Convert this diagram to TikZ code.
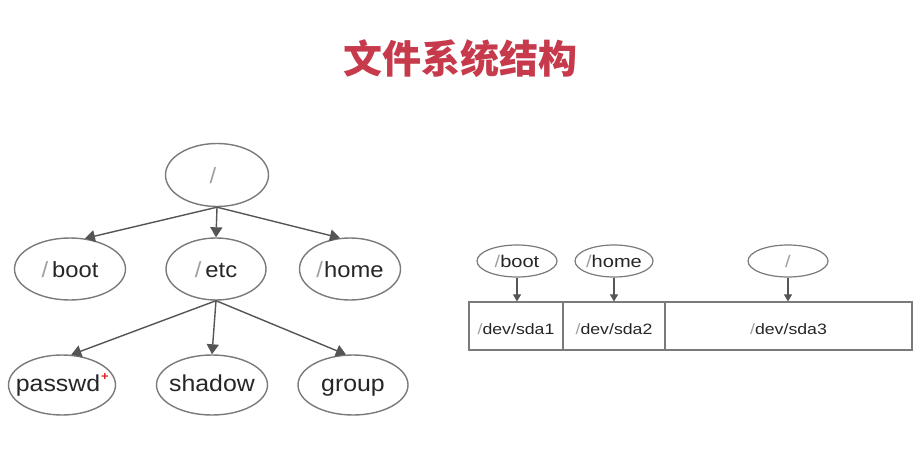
\documentclass[tikz,border=0pt]{standalone}
\usepackage{fontspec}
\setmainfont{Liberation Sans}
\newfontfamily\cjk{Noto Sans CJK SC}
\newfontfamily\treefont{Liberation Sans}[FakeStretch=1.08]
\newfontfamily\widefont{Liberation Sans}[FakeStretch=1.18]
\usetikzlibrary{shapes.geometric,arrows.meta}
\definecolor{titlered}{HTML}{C63A4C}
\definecolor{slashgray}{HTML}{A0A0A0}
\definecolor{txt}{HTML}{262626}
\definecolor{edge}{HTML}{7A7A7A}
\definecolor{arr}{HTML}{555555}
\definecolor{plusred}{HTML}{E02020}
\tikzset{
  bignode/.style={ellipse,draw=edge,line width=1.4pt,inner sep=0pt,minimum width=102pt,minimum height=62pt,text=txt,font=\treefont\fontsize{22}{22}\selectfont,text height=20pt,text depth=4pt},
  lownode/.style={bignode,font=\treefont\fontsize{23}{23}\selectfont,text height=16pt,text depth=4pt},
  smallnode/.style={ellipse,draw=edge,line width=1.2pt,inner sep=0pt,minimum width=80pt,minimum height=32pt,text=txt,font=\widefont\fontsize{17}{17}\selectfont,text height=14pt,text depth=2pt},
  cell/.style={rectangle,draw=edge,line width=1.2pt,inner sep=0pt,minimum height=48pt,text=txt,font=\widefont\fontsize{15}{15}\selectfont,text height=16pt,text depth=0pt},
  bigarrow/.style={draw=arr,line width=1.4pt,-{Triangle[width=12pt,length=10pt]}},
  smallarrow/.style={draw=arr,line width=1.1pt,-{Triangle[width=8pt,length=7pt]}}
}
\newcommand{\gslash}{{\color{slashgray}/}}
\newcommand{\fit}[1]{\makebox[0pt]{#1}}
\begin{document}
\begin{tikzpicture}[x=1pt,y=-1pt]
\useasboundingbox[fill=white] (0,0) rectangle (917,473);
% title
\node[text=titlered,font=\cjk\bfseries\fontsize{39}{39}\selectfont] (title) at (460,59) {文件系统结构};
% left tree
\node[bignode,minimum width=103pt,minimum height=63pt] (root) at (217,175) {\fit{\gslash\hspace{8pt}}};
\node[bignode,minimum width=111pt] (boot) at (70,269) {\fit{\gslash\hspace{4pt}boot}};
\node[bignode,minimum width=100pt] (etc) at (216,269) {\fit{\gslash\hspace{4pt}etc}};
\node[bignode,minimum width=101pt] (home) at (350,269) {\fit{\gslash\hspace{1pt}home}};
\node[lownode,minimum width=107pt,minimum height=60pt] (passwd) at (62,385) {\fit{\hspace{-8pt}passwd\rlap{\hspace{1pt}\raisebox{11pt}{\color{plusred}\bfseries\fontsize{12}{12}\selectfont+}}}};
\node[lownode,minimum width=111pt,minimum height=60pt] (shadow) at (212,385) {\fit{shadow}};
\node[lownode,minimum width=110pt,minimum height=60pt] (group) at (353,385) {\fit{group}};
\draw[bigarrow] (root.south) -- (boot.64);
\draw[bigarrow] (root.south) -- (etc.north);
\draw[bigarrow] (root.south) -- (home.108);
\draw[bigarrow] (etc.south) -- (passwd.73);
\draw[bigarrow] (etc.south) -- (shadow.north);
\draw[bigarrow] (etc.south) -- (group.103);
% right side
\node[smallnode] (rb) at (517,261) {\fit{\gslash boot}};
\node[smallnode,minimum width=78pt] (rh) at (614,261) {\fit{\gslash home}};
\node[smallnode] (rr) at (788,261) {\fit{\gslash}};
\node[cell,minimum width=94pt] (sda1) at (516,326) {\gslash dev/sda1};
\node[cell,minimum width=102pt] (sda2) at (614,326) {\gslash dev/sda2};
\node[cell,minimum width=247pt] (sda3) at (788.5,326) {\gslash dev/sda3};
\draw[smallarrow] (rb.south) -- (rb.south |- sda1.north);
\draw[smallarrow] (rh.south) -- (rh.south |- sda2.north);
\draw[smallarrow] (rr.south) -- (rr.south |- sda3.north);
\end{tikzpicture}
\end{document}
